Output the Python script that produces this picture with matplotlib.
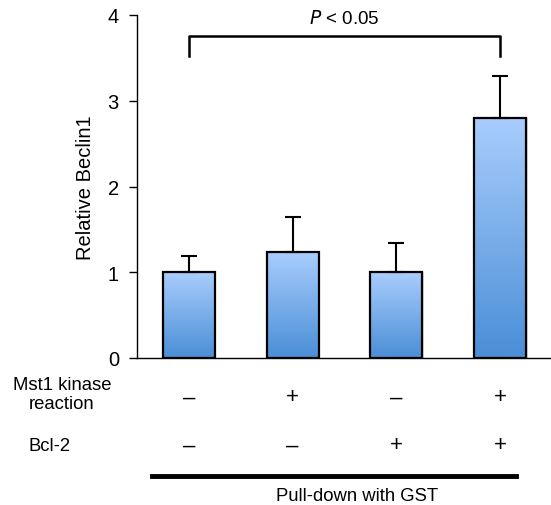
import numpy as np
import matplotlib
matplotlib.use("Agg")
import matplotlib.pyplot as plt
from matplotlib.transforms import blended_transform_factory
from matplotlib.colors import LinearSegmentedColormap

plt.rcParams['font.family'] = ['Liberation Sans', 'DejaVu Sans']

# data
values = [1.0, 1.24, 1.0, 2.80]
errors = [0.19, 0.41, 0.34, 0.49]
mst1 = ['–', '+', '–', '+']
bcl2 = ['–', '–', '+', '+']
row_labels = ['Mst1 kinase\nreaction', 'Bcl-2']
ylabel = 'Relative Beclin1'
bottom_label = 'Pull-down with GST'

W, H = 551, 506
fig = plt.figure(figsize=(W / 100, H / 100), dpi=100)
ax = fig.add_axes([137 / W, (H - 359) / H, (550 - 137) / W, (359 - 16) / H])

x = np.arange(len(values))
bars = ax.bar(x, values, width=0.5, color='none', edgecolor='black', linewidth=1.6, zorder=3)

cmap = LinearSegmentedColormap.from_list('g', ['#4a8ed6', '#a9cdfd'])
grad = np.linspace(0, 1, 256).reshape(-1, 1)
for b in bars:
    x0, w, h = b.get_x(), b.get_width(), b.get_height()
    ax.add_patch(plt.Rectangle((x0 + 0.015, 0), w, h, facecolor='#00000022', edgecolor='none', zorder=1))
    im = ax.imshow(grad, extent=[x0, x0 + w, 0, h], origin='lower', cmap=cmap,
                   aspect='auto', zorder=2)
    im.set_clip_path(b)

ax.errorbar(x, values, yerr=[np.zeros(len(errors)), errors], fmt='none', ecolor='black',
            elinewidth=1.5, capsize=6, capthick=1.5, zorder=2.5)

ax.set_xlim(-0.5, 3.48)
ax.set_ylim(0, 4)
ax.set_yticks([0, 1, 2, 3, 4])
ax.set_xticks([])
ax.tick_params(axis='y', direction='out', length=6, width=1, labelsize=14.5, pad=7)
for s in ['top', 'right']:
    ax.spines[s].set_visible(False)
ax.spines['left'].set_linewidth(1)
ax.spines['bottom'].set_linewidth(1)
ax.set_ylabel(ylabel, fontsize=14.5)
ax.yaxis.set_label_coords((95 - 137) / 413, 0.5)
ax.autoscale(False)

# significance bracket
by, bdrop = 3.76, 0.24
ax.plot([x[0], x[0], x[3], x[3]], [by - bdrop, by, by, by - bdrop], color='black', lw=1.8,
        clip_on=False, zorder=4)
ax.text((x[0] + x[3]) / 2, 3.965, r'$\it{P}$ < 0.05', ha='center', va='center', fontsize=13.5,
        clip_on=False)

# condition table
tr = blended_transform_factory(ax.transData, fig.transFigure)
ftr = fig.transFigure
def fy(px):
    return 1 - px / H

for i, s in enumerate(mst1):
    ax.text(x[i], fy(398), s, transform=tr, ha='center', va='center', fontsize=16)
for i, s in enumerate(bcl2):
    ax.text(x[i], fy(446), s, transform=tr, ha='center', va='center', fontsize=16)
fig.text(62 / W, fy(395), row_labels[0], ha='center', va='center', fontsize=13.3, linespacing=1.1)
fig.text(50 / W, fy(447), row_labels[1], ha='center', va='center', fontsize=13.3)

fig.add_artist(plt.Line2D([152 / W, 516 / W], [fy(477), fy(477)], color='black', lw=3.5,
                          transform=ftr))
fig.text(357 / W, fy(497), bottom_label, ha='center', va='center', fontsize=13.3)

fig.savefig('out.png', dpi=100)
